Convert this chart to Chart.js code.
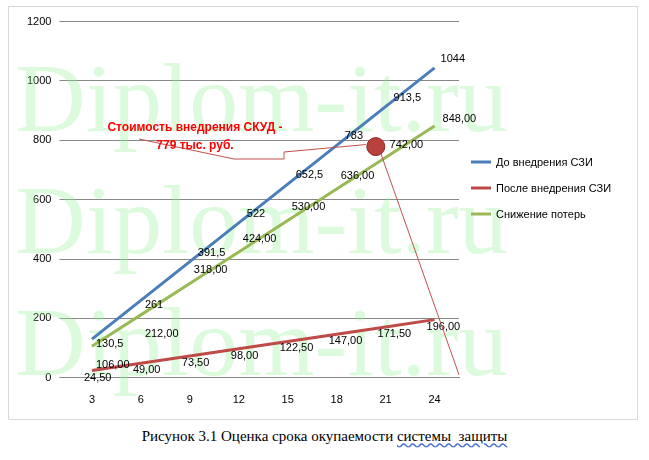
<!DOCTYPE html>
<html><head><meta charset="utf-8">
<script src="https://cdn.jsdelivr.net/npm/chart.js@4"></script>
<style>
body{margin:0;background:#fff;width:649px;height:460px;overflow:hidden}
#box{position:absolute;left:8px;top:6px;width:628px;height:412px;border:1px solid #d9d9d9}
#cap{position:absolute;left:0;top:428px;width:649px;text-align:center;font-family:"Liberation Serif",serif;font-size:15px}
#cap span{text-decoration:underline wavy #4a6fd0}
</style></head><body>
<div id="box"><canvas id="c" width="628" height="412"></canvas></div>
<div id="cap">Рисунок 3.1 Оценка срока окупаемости <span>системы&nbsp; защиты</span></div>
<script>
var months = ["3","6","9","12","15","18","21","24"];
var before = [130.5, 261, 391.5, 522, 652.5, 783, 913.5, 1044];
var after = [24.5, 49, 73.5, 98, 122.5, 147, 171.5, 196];
var saving = [106, 212, 318, 424, 530, 636, 742, 848];
var beforeLabels = ["130,5","261","391,5","522","652,5","783","913,5","1044"];
var afterLabels = ["24,50","49,00","73,50","98,00","122,50","147,00","171,50","196,00"];
var savingLabels = ["106,00","212,00","318,00","424,00","530,00","636,00","742,00","848,00"];
var names = ["До внедрения СЗИ","После внедрения СЗИ","Снижение потерь"];
var colors = ["#4a7ebb","#be4b48","#98b954"];

var extras = {
  id: "extras",
  beforeDatasetsDraw: function (chart) {
    var c = chart.ctx;
    c.save();
    c.fillStyle = "rgba(140,240,140,0.3)";
    c.font = "98px 'Liberation Serif'";
    [124, 246, 368].forEach(function (y) { c.fillText("Diplom-it.ru", 6, y); });
    c.restore();
  },
  afterDatasetsDraw: function (chart) {
    var c = chart.ctx, x = chart.scales.x, y = chart.scales.y;
    c.save();
    c.font = "11px 'Liberation Sans'";
    c.fillStyle = "#000";
    [beforeLabels, afterLabels, savingLabels].forEach(function (lab, s) {
      var d = [before, after, saving][s];
      lab.forEach(function (t, i) {
        var px = x.getPixelForValue(i), py = y.getPixelForValue(d[i]);
        var dx = 8, dy = -6;
        if (s === 1) { dx = -8; dy = 10; }
        if (s === 2) { dx = 4; dy = -10; if (i < 2) { dx = 4; dy = 22; } }
        if (s === 0 && i < 2) { dx = 4; dy = 8; }
        if (s === 0 && i === 7) { dx = 6; dy = -6; }
        if (s === 2 && i === 7) { dx = 8; dy = -4; }
        c.fillText(t, px + dx, py + dy);
      });
    });
    var cx = x.getPixelForValue(5.8), cy = y.getPixelForValue(779);
    c.strokeStyle = "#c0504d"; c.lineWidth = 1;
    c.beginPath(); c.moveTo(cx + 4, cy + 4); c.lineTo(x.getPixelForValue(7.5), y.getPixelForValue(10)); c.stroke();
    c.beginPath(); c.moveTo(130, 132); c.lineTo(225, 152); c.lineTo(275, 152); c.lineTo(275, 145); c.lineTo(cx - 10, cy - 2); c.stroke();
    c.beginPath(); c.arc(cx, cy, 9, 0, Math.PI * 2);
    c.fillStyle = "#b8413c"; c.fill(); c.strokeStyle = "#8a2b27"; c.stroke();
    c.fillStyle = "#ff0000"; c.font = "bold 12px 'Liberation Sans'"; c.textAlign = "center";
    c.fillText("Стоимость внедрения СКУД -", 186, 124);
    c.fillText("779 тыс. руб.", 186, 142);
    c.textAlign = "left"; c.font = "11px 'Liberation Sans'";
    names.forEach(function (n, i) {
      var ly = 155 + i * 26;
      c.strokeStyle = colors[i]; c.lineWidth = 3;
      c.beginPath(); c.moveTo(462, ly); c.lineTo(482, ly); c.stroke();
      c.fillStyle = "#000"; c.fillText(n, 487, ly + 4);
    });
    c.restore();
  }
};

new Chart(document.getElementById("c"), {
  type: "line",
  data: {
    labels: months,
    datasets: [before, after, saving].map(function (d, i) {
      return { label: names[i], data: d, borderColor: colors[i], borderWidth: 3, pointRadius: 0, tension: 0 };
    })
  },
  options: {
    responsive: false, animation: false,
    layout: { padding: { top: 6, right: 178, bottom: 4, left: 10 } },
    plugins: { legend: { display: false }, tooltip: { enabled: false } },
    scales: {
      x: { offset: true, grid: { display: false }, border: { color: "#888" },
           ticks: { padding: 8, color: "#000", font: { size: 11, family: "Liberation Sans" } } },
      y: { min: 0, max: 1200,
           ticks: { stepSize: 200, padding: 8, color: "#000", font: { size: 11, family: "Liberation Sans" },
                    callback: function (v) { return String(v); } },
           grid: { color: "#888" }, border: { display: false } }
    }
  },
  plugins: [extras]
});
</script>
</body></html>
